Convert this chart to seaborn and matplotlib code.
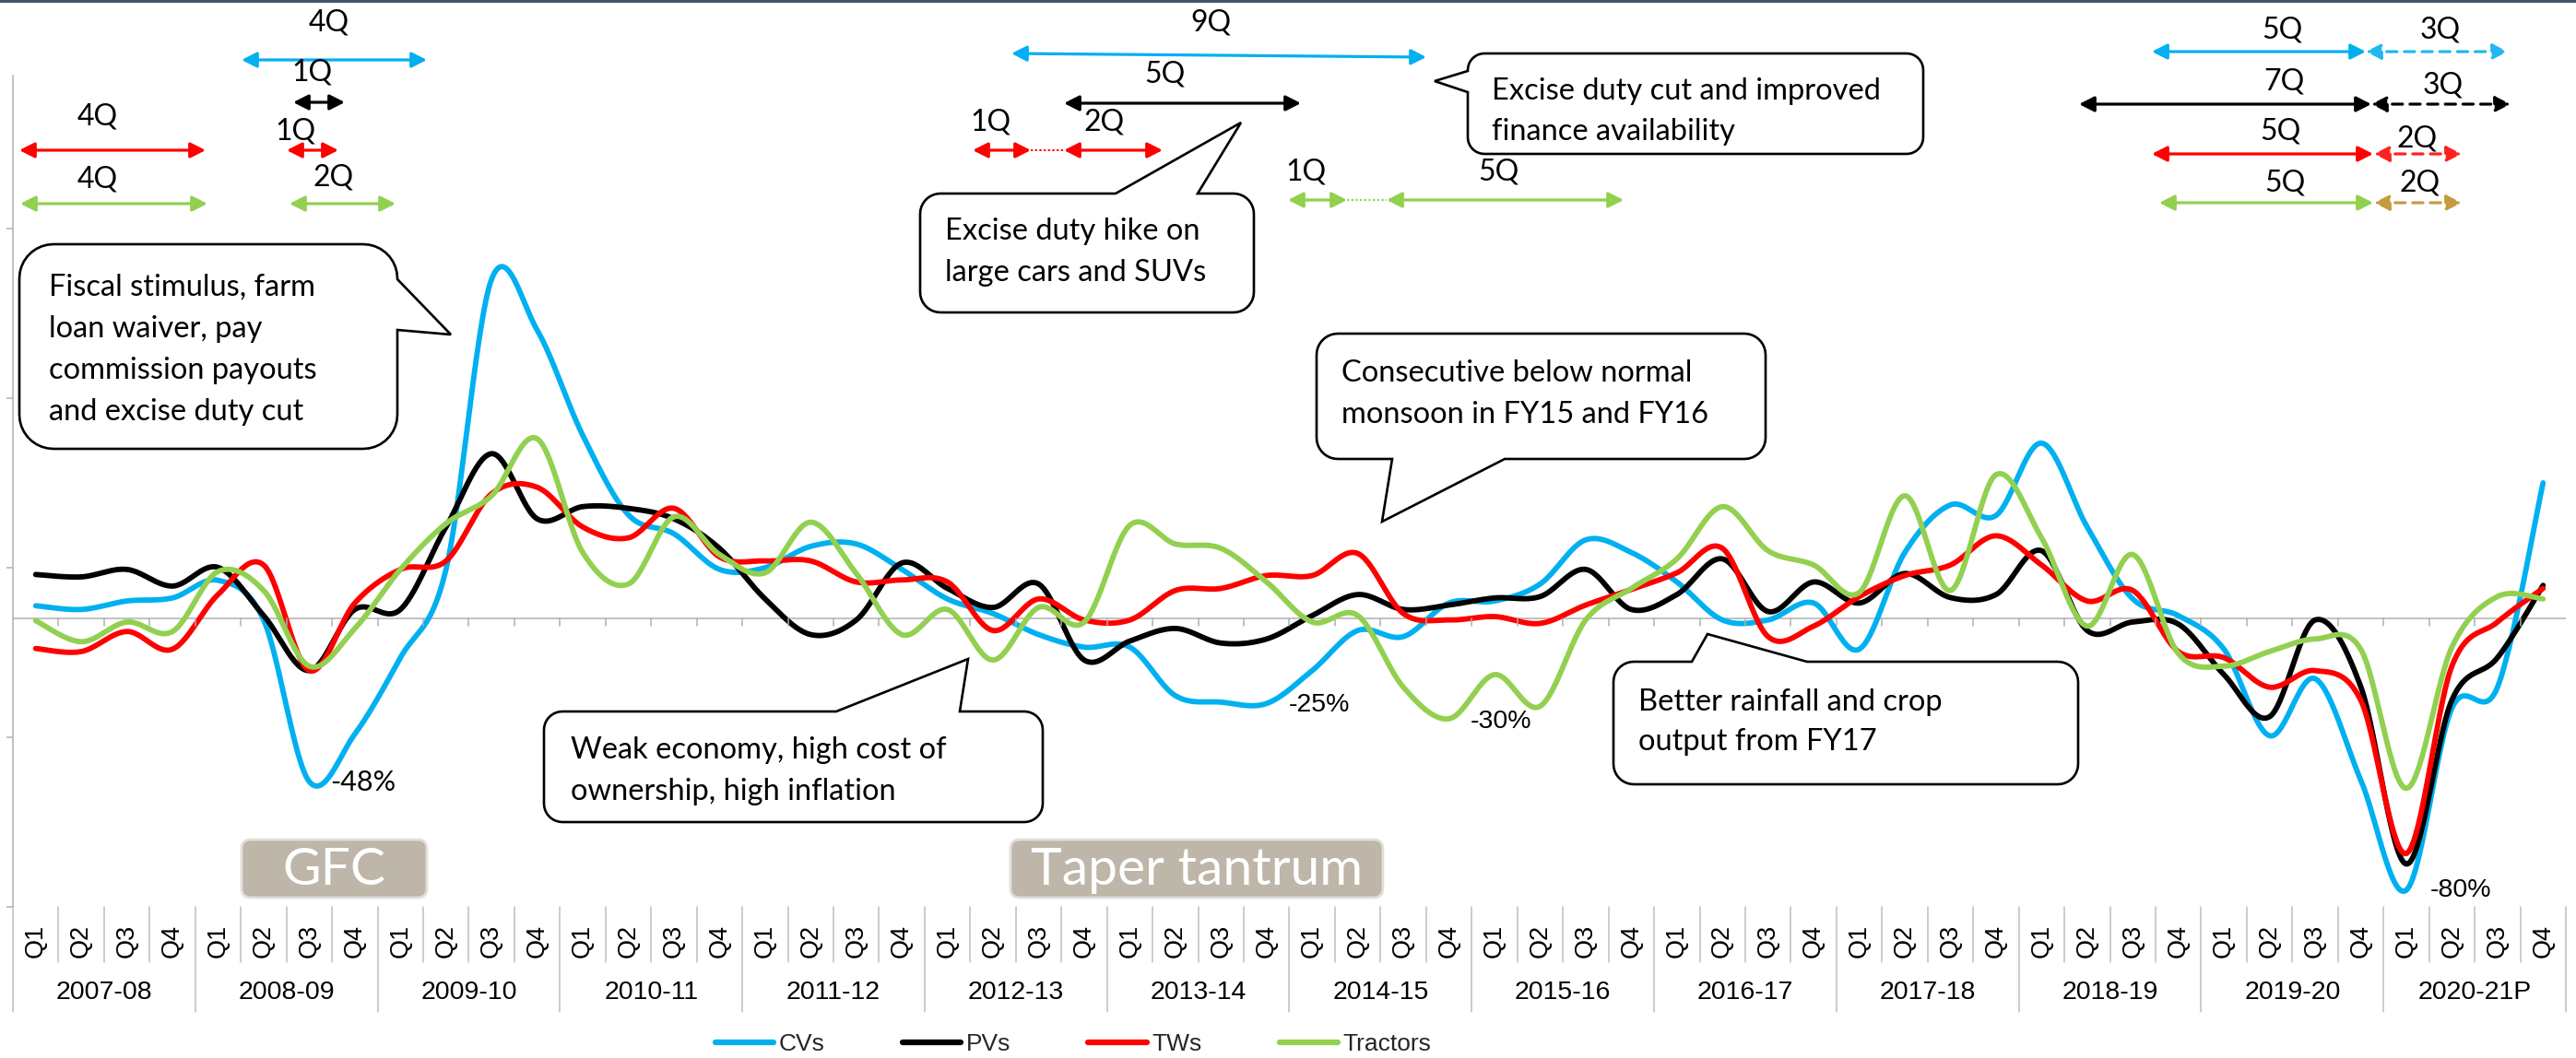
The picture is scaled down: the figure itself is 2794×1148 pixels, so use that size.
import numpy as np
import pandas as pd
import matplotlib
matplotlib.use("Agg")
import matplotlib.pyplot as plt
import seaborn as sns
from matplotlib.transforms import Affine2D, blended_transform_factory
from matplotlib.patches import Polygon, FancyBboxPatch, FancyArrowPatch, ArrowStyle, Rectangle
from matplotlib.lines import Line2D
from matplotlib.font_manager import FontProperties

# ---------------- data ----------------
years = ["2007-08", "2008-09", "2009-10", "2010-11", "2011-12", "2012-13", "2013-14",
         "2014-15", "2015-16", "2016-17", "2017-18", "2018-19", "2019-20", "2020-21P"]
quarters = ["Q1", "Q2", "Q3", "Q4"]
series_names = ["CVs", "PVs", "TWs", "Tractors"]

cvs = [3.8, 2.7, 5.2, 6.1, 11.3, -0.4, -48, -34, -11.5, 14.5, 100, 85, 54, 30.6,
       25, 14.5, 15, 21.3, 22, 14.5, 5.8, 1.5, -4.7, -8.4, -8.4, -22.7, -24.6, -25,
       -15.3, -3.5, -5.3, 4.6, 5.2, 10.2, 23.2, 19.5, 10.8, -0.4, -0.4, 4.6, -9, 19.5,
       33.5, 30.4, 51.7, 27, 5.8, 0.9, -9, -34.5, -17.7, -47.5, -80, -26.4, -20.2, 40]
pvs = [13, 12.3, 14.5, 9.6, 15.1, 0.9, -15.3, 2.7, 2.7, 27, 48.6, 29.4, 33, 32.5,
       29.4, 20.7, 5.8, -4.7, -0.4, 16.4, 8.9, 3.3, 10.2, -12.2, -6.6, -2.9, -7.2, -6,
       0.9, 7.1, 2.7, 4, 6.1, 6.5, 14.5, 2.7, 7.1, 17.6, 2.1, 10.8, 4.6, 13.3,
       6.2, 7.1, 20, -3.5, -1, -1.6, -16.5, -28.9, -0.4, -20, -72.3, -24, -11.5, 9.8]
tws = [-8.8, -9.7, -3.8, -9, 7.1, 15.8, -15.3, 4.6, 14.5, 17, 36.8, 38.7, 27, 23.8,
       32.5, 18.2, 17, 17, 10.8, 11.4, 10.8, -3.5, 5.8, -0.4, -0.4, 8.3, 8.9, 12.7,
       12.7, 19.2, 1.5, -0.4, 0.6, -1.4, 4, 8.6, 13.5, 20.7, -5.3, -2.2, 6.5, 12.7,
       15.8, 24.4, 15.8, 5.2, 8.3, -9.7, -11.5, -20.2, -15.3, -24, -69.2, -14, -1, 8.9]
tractors = [-0.6, -6.8, -1, -3.8, 13.9, 8.3, -14, -2.9, 14.5, 28, 36.2, 53, 19.5, 10.2,
            30, 18.9, 13.5, 28.4, 13.3, -4.7, 2.7, -12.2, 3.3, -1, 27.5, 22, 20.7, 10.8,
            -1, 0.9, -20.2, -29.5, -16.5, -25.8, -0.4, 8.9, 17.6, 33, 20, 15.8, 7.7, 36.2,
            8.3, 42.4, 23.8, -2.2, 18.9, -10.3, -14, -9.7, -6, -9, -50, -8.4, 6.5, 5.8]

colors = {"CVs": "#00B0F0", "PVs": "#000000", "TWs": "#FF0000", "Tractors": "#92D050"}

# ---------------- figure / layout ----------------
W, H = 2794, 1148
L, R, T, B = 14, 2783, 82, 984.3
YMIN, YMAX = -85, 160

sns.set_theme(style="white")
plt.rcParams["font.family"] = ["Lato", "DejaVu Sans"]
plt.rcParams["lines.solid_capstyle"] = "round"
plt.rcParams["lines.solid_joinstyle"] = "round"

fig = plt.figure(figsize=(W / 100, H / 100), dpi=100)
fig.patch.set_facecolor("white")
PX = Affine2D().scale(1, -1).translate(0, H)  # pixel coords (origin top-left)

ax = fig.add_axes([L / W, 1 - B / H, (R - L) / W, (B - T) / H])
ax.set_facecolor("none")


def smooth(vals, n=30):
    """Excel-like smoothed line: Catmull-Rom converted to cubic Bezier."""
    y = np.asarray(vals, float)
    x = np.arange(len(y), dtype=float)
    P = np.column_stack([x, y])
    Pm = np.vstack([P[0], P, P[-1]])
    out = []
    t = np.linspace(0, 1, n, endpoint=False)[:, None]
    for i in range(len(P) - 1):
        p0, p1, p2, p3 = Pm[i], Pm[i + 1], Pm[i + 2], Pm[i + 3]
        c1 = p1 + (p2 - p0) / 6.0
        c2 = p2 - (p3 - p1) / 6.0
        seg = ((1 - t) ** 3) * p1 + 3 * ((1 - t) ** 2) * t * c1 + 3 * (1 - t) * t ** 2 * c2 + t ** 3 * p2
        out.append(seg)
    out.append(P[-1][None, :])
    out = np.vstack(out)
    return out[:, 0], out[:, 1]


frames = []
for name, vals in zip(series_names, [cvs, pvs, tws, tractors]):
    sx, sy = smooth(vals)
    frames.append(pd.DataFrame({"x": sx, "value": sy, "series": name}))
df = pd.concat(frames, ignore_index=True)

sns.lineplot(data=df, x="x", y="value", hue="series", hue_order=series_names,
             palette=colors, estimator=None, sort=False, linewidth=4.2, legend=False, ax=ax)

ax.set_xlim(-0.5, 55.5)
ax.set_ylim(YMIN, YMAX)
ax.set_xlabel("")
ax.set_ylabel("")
ax.set_xticks([])
ax.set_yticks([-85, -35, 15, 65, 115])
ax.set_yticklabels([])
ax.tick_params(axis="y", which="both", left=True, length=5, width=1.1, color="#B0B0B0", direction="out")
for s in ["top", "right", "bottom"]:
    ax.spines[s].set_visible(False)
ax.spines["left"].set_color("#B0B0B0")
ax.spines["left"].set_linewidth(1.1)
ax.axhline(0, color="#B0B0B0", lw=1.1, zorder=0)

# zero-line tick marks at quarter boundaries
zero_px = T + (YMAX - 0) / (YMAX - YMIN) * (B - T)
bt = blended_transform_factory(ax.transData, PX)
for k in range(1, 56):
    ax.add_line(Line2D([k - 0.5, k - 0.5], [zero_px, zero_px + 8], transform=bt,
                       color="#B0B0B0", lw=1.1, clip_on=False))

# ---------------- category axis (two levels) ----------------
for k in range(0, 57):
    bottom = 1098 if k % 4 == 0 else 1044
    ax.add_line(Line2D([k - 0.5, k - 0.5], [B, bottom], transform=bt,
                       color="#BFBFBF", lw=1.1, clip_on=False))
for i in range(56):
    ax.text(i, 1021, quarters[i % 4], transform=bt, rotation=90, ha="center", va="center",
            fontsize=19.5, family="Liberation Sans", color="black", clip_on=False)
for j, yr in enumerate(years):
    ax.text(j * 4 + 1.5, 1077, yr, transform=bt, ha="center", va="center",
            fontsize=20.5, family="Liberation Sans", color="black", clip_on=False)

# ---------------- legend ----------------
handles = [Line2D([], [], color=colors[n], lw=4.5) for n in series_names]
fig.legend(handles, series_names, loc="center", bbox_to_anchor=(1164 / W, 1 - 1133 / H),
           ncol=4, frameon=False, handlelength=2.4, handletextpad=0.2, columnspacing=3.2,
           prop=FontProperties(family="Liberation Sans", size=19))

# ---------------- top border ----------------
fig.add_artist(Rectangle((0, 0), W, 3, transform=PX, facecolor="#44546A", edgecolor="none"))

# ---------------- helpers ----------------
ASTYLE = ArrowStyle("<|-|>", head_length=0.55, head_width=0.28)


def arrow(x0, x1, y0, color, ls="-", y1=None):
    y1 = y0 if y1 is None else y1
    a = FancyArrowPatch((x0, y0), (x1, y1), transform=PX, arrowstyle=ASTYLE, mutation_scale=18,
                        color=color, lw=2.3, linestyle=ls, shrinkA=0, shrinkB=0)
    fig.add_artist(a)


def qlabel(x, y, s):
    fig.text(x, y, s, transform=PX, ha="center", va="center", fontsize=23, color="black")


def dotted(x0, x1, y, color):
    fig.add_artist(Line2D([x0, x1], [y, y], transform=PX, color=color, lw=1.4, linestyle=(0, (1.2, 1.2))))


def rounded_path(x0, y0, x1, y1, r, side=None, ba=None, bb=None, tip=None, n=10):
    pts = []
    def arc(cx, cy, a0, a1):
        for a in np.linspace(np.radians(a0), np.radians(a1), n):
            pts.append((cx + r * np.cos(a), cy + r * np.sin(a)))
    arc(x0 + r, y0 + r, 180, 270)            # top-left corner
    if side == "top":
        pts += [(ba, y0), tip, (bb, y0)]
    arc(x1 - r, y0 + r, 270, 360)            # top-right
    if side == "right":
        pts += [(x1, ba), tip, (x1, bb)]
    arc(x1 - r, y1 - r, 0, 90)               # bottom-right
    if side == "bottom":
        pts += [(bb, y1), tip, (ba, y1)]
    arc(x0 + r, y1 - r, 90, 180)             # bottom-left
    if side == "left":
        pts += [(x0, bb), tip, (x0, ba)]
    return pts


def callout(box, r, side, ba, bb, tip, lines, tx, baselines, size=23.5):
    pts = rounded_path(*box, r, side, ba, bb, tip)
    fig.add_artist(Polygon(pts, closed=True, transform=PX, facecolor="white",
                           edgecolor="black", lw=1.9, joinstyle="miter"))
    for s, yb in zip(lines, baselines):
        fig.text(tx, yb, s, transform=PX, ha="left", va="baseline", fontsize=size, color="black")


# ---------------- duration arrows ----------------
# GFC period
arrow(262, 463, 65, "#00B0F0"); qlabel(357, 24, "4Q")
arrow(318, 374, 111, "#000000"); qlabel(338, 78, "1Q")
arrow(21, 223, 163, "#FF0000"); qlabel(106, 126, "4Q")
arrow(311, 367, 163, "#FF0000"); qlabel(320, 143, "1Q")
arrow(22, 225, 221, "#92D050"); qlabel(106, 195, "4Q")
arrow(314, 429, 221, "#92D050"); qlabel(362, 193, "2Q")

# Taper tantrum period
arrow(1097, 1547, 58, "#00B0F0", y1=62); qlabel(1313, 24, "9Q")
arrow(1154, 1411, 112, "#000000"); qlabel(1263, 81, "5Q")
arrow(1055, 1118, 163, "#FF0000"); qlabel(1074, 133, "1Q")
dotted(1118, 1154, 163, "#FF0000")
arrow(1154, 1261, 163, "#FF0000"); qlabel(1198, 133, "2Q")
arrow(1397, 1461, 217, "#92D050"); qlabel(1416, 187, "1Q")
dotted(1461, 1504, 217, "#92D050")
arrow(1504, 1761, 217, "#92D050"); qlabel(1625, 187, "5Q")

# Recent period
DASH = (0, (3.5, 2.5))
arrow(2334, 2566, 56, "#00B0F0"); qlabel(2475, 32, "5Q")
arrow(2566, 2720, 56, "#1FB8F0", ls=DASH); qlabel(2647, 32, "3Q")
arrow(2255, 2572, 113, "#000000"); qlabel(2477, 89, "7Q")
arrow(2572, 2723, 113, "#000000", ls=DASH); qlabel(2650, 92, "3Q")
arrow(2334, 2574, 167, "#FF0000"); qlabel(2473, 143, "5Q")
arrow(2575, 2670, 167, "#FF2020", ls=DASH); qlabel(2622, 150, "2Q")
arrow(2342, 2574, 220, "#92D050"); qlabel(2478, 198, "5Q")
arrow(2575, 2670, 220, "#C59B3E", ls=DASH); qlabel(2625, 198, "2Q")

# ---------------- callouts ----------------
callout((21, 265, 431, 487), 37, "right", 303, 358, (489, 363),
        ["Fiscal stimulus, farm", "loan waiver, pay", "commission payouts", "and excise duty cut"],
        53, [321, 366, 411, 456])
callout((1592, 58, 2086, 167), 18, "left", 77, 100, (1556, 88),
        ["Excise duty cut and improved", "finance availability"], 1618, [108, 152])
callout((998, 210, 1360, 339), 22, "top", 1210, 1299, (1346, 133),
        ["Excise duty hike on", "large cars and SUVs"], 1025, [260, 305])
callout((590, 772, 1131, 892), 20, "top", 907, 1041, (1050, 715),
        ["Weak economy, high cost of", "ownership, high inflation"], 619, [823, 868])
callout((1428, 362, 1915, 498), 23, "bottom", 1510, 1632, (1499, 566),
        ["Consecutive below normal", "monsoon in FY15 and FY16"], 1455, [414, 459])
callout((1750, 718, 2254, 851), 22, "top", 1835, 1960, (1852, 688),
        ["Better rainfall and crop", "output from FY17"], 1777, [771, 814])

# ---------------- event boxes ----------------
for (x0, x1, label) in [(262, 463, "GFC"), (1096, 1500, "Taper tantrum")]:
    fig.add_artist(FancyBboxPatch((x0, 911), x1 - x0, 63, boxstyle="round,pad=0,rounding_size=10",
                                  transform=PX, facecolor="#BDB6A9", edgecolor="#E2DFDA", lw=2))
    fig.text((x0 + x1) / 2, 944, label, transform=PX, ha="center", va="center",
             fontsize=41, color="white")

# ---------------- data labels ----------------
fig.text(358, 849, "-48%", transform=PX, ha="left", va="center", fontsize=22, color="black")
fig.text(1398, 765, "-25%", transform=PX, ha="left", va="center", fontsize=20.5,
         family="Liberation Sans", color="black")
fig.text(1595, 783, "-30%", transform=PX, ha="left", va="center", fontsize=20.5,
         family="Liberation Sans", color="black")
fig.text(2636, 966, "-80%", transform=PX, ha="left", va="center", fontsize=20.5,
         family="Liberation Sans", color="black")

fig.savefig("out.png", dpi=100, facecolor="white")
